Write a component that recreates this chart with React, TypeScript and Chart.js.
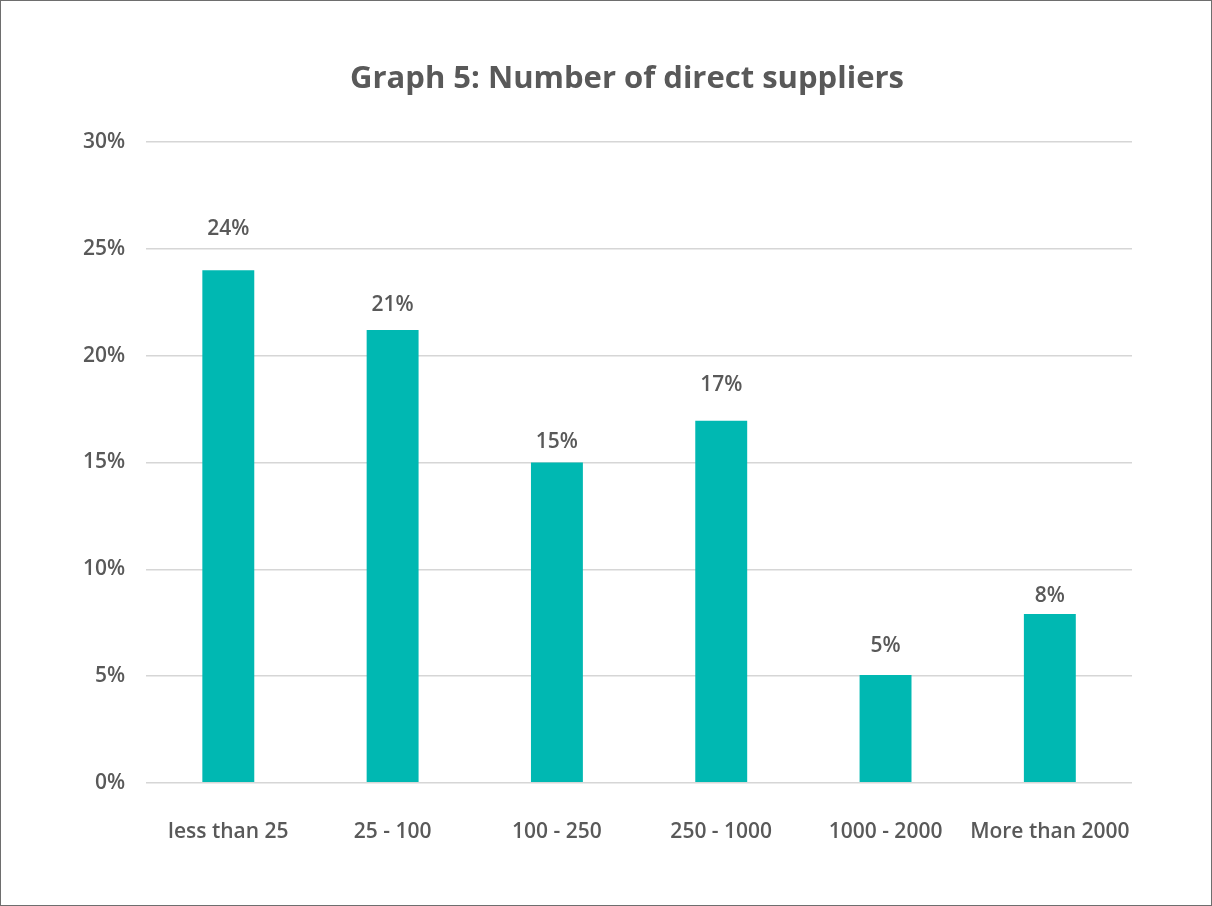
import React, { useEffect, useRef } from "react";
import { Chart, registerables } from "chart.js";

Chart.register(...registerables);

const categories = ["less than 25", "25 - 100", "100 - 250", "250 - 1000", "1000 - 2000", "More than 2000"];
const values = [24, 21.2, 15, 16.95, 5.05, 7.9];
const valueLabels = ["24%", "21%", "15%", "17%", "5%", "8%"];
const labelGaps = [41, 25, 20, 36, 29, 18];

const TEXT = "#595959";
const FONT = "'Open Sans', 'Noto Sans', sans-serif";
const TITLE_SHIFT = 30;

const labelPlugin = {
  id: "valueLabels",
  afterLayout(chart: any) {
    const t = chart.titleBlock;
    if (t) {
      t.left += TITLE_SHIFT;
      t.right += TITLE_SHIFT;
    }
  },
  afterDatasetsDraw(chart: any) {
    const ctx = chart.ctx;
    const meta = chart.getDatasetMeta(0);
    ctx.save();
    ctx.fillStyle = TEXT;
    ctx.font = `600 21px ${FONT}`;
    ctx.textAlign = "center";
    ctx.textBaseline = "middle";
    meta.data.forEach((bar: any, i: number) => {
      ctx.fillText(valueLabels[i], bar.x, bar.y - labelGaps[i]);
    });
    ctx.restore();
  },
};

export default function App() {
  const ref = useRef<HTMLCanvasElement>(null);
  useEffect(() => {
    if (!ref.current) return;
    const chart = new Chart(ref.current, {
      type: "bar",
      data: {
        labels: categories,
        datasets: [
          {
            data: values,
            backgroundColor: "#00B8B2",
            categoryPercentage: 1,
            barPercentage: 0.316,
          },
        ],
      },
      options: {
        responsive: false,
        animation: false,
        layout: { padding: { left: 61, right: 79, top: 0, bottom: 23 } },
        plugins: {
          legend: { display: false },
          tooltip: { enabled: false },
          title: {
            display: true,
            text: "Graph 5: Number of direct suppliers",
            color: TEXT,
            font: { family: FONT, size: 31, weight: "bold" as any, lineHeight: 1.2 },
            padding: { top: 60, bottom: 44 },
          },
        },
        scales: {
          x: {
            grid: { display: false, drawTicks: false },
            border: { display: false },
            ticks: {
              color: TEXT,
              padding: 37,
              maxRotation: 0,
              autoSkip: false,
              font: { family: FONT, size: 21, weight: "600" as any, lineHeight: 1.2 },
            },
          },
          y: {
            min: 0,
            max: 30,
            grid: { color: "#d6d6d6", lineWidth: 1.5, drawTicks: false },
            border: { display: false },
            ticks: {
              stepSize: 5,
              color: TEXT,
              padding: 21,
              font: { family: FONT, size: 21, weight: "600" as any, lineHeight: 1.2 },
              callback: (v: any) => `${v}%`,
            },
          },
        },
      },
      plugins: [labelPlugin],
    });
    return () => chart.destroy();
  }, []);
  return (
    <div
      style={{
        position: "absolute",
        left: 0,
        top: 0,
        width: 1212,
        height: 906,
        boxSizing: "border-box",
        border: "1px solid #6e6e6e",
        background: "#fff",
      }}
    >
      <canvas ref={ref} width={1210} height={904} style={{ display: "block", width: 1210, height: 904 }} />
    </div>
  );
}
